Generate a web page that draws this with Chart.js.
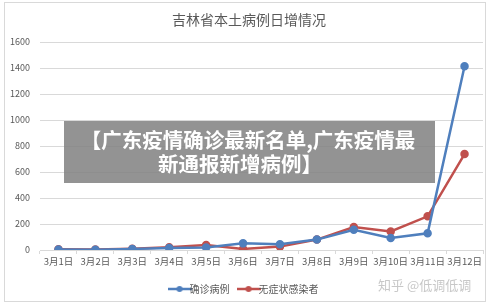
<!DOCTYPE html>
<html><head><meta charset="utf-8">
<script src="https://cdn.jsdelivr.net/npm/chart.js@4"></script>
<style>html,body{margin:0;padding:0;background:#fff}#wrap{width:500px;height:306px;position:relative}</style>
</head><body><div id="wrap"><canvas id="c" width="500" height="306"></canvas></div>
<script>
const categories = ['3月1日','3月2日','3月3日','3月4日','3月5日','3月6日','3月7日','3月8日','3月9日','3月10日','3月11日','3月12日'];
const confirmed = [3, 2, 8, 16, 20, 51, 44, 80, 156, 92, 128, 1413];
const asymptomatic = [5, 4, 10, 21, 38, 8, 26, 80, 177, 143, 259, 738];
const seriesNames = ['确诊病例', '无症状感染者'];
const yTicks = [0, 200, 400, 600, 800, 1000, 1200, 1400, 1600];
const titleText = '吉林省本土病例日增情况';
const overlayLines = ['【广东疫情确诊最新名单,广东疫情最', '新通报新增病例】'];
const watermark = '知乎 @低调低调';
const FONT = '"Noto Sans CJK SC", "Microsoft YaHei", sans-serif';

function legendIcon(color){
  const c = document.createElement('canvas'); c.width = 24; c.height = 8;
  const g = c.getContext('2d');
  g.strokeStyle = color; g.lineWidth = 2.5;
  g.beginPath(); g.moveTo(0,4); g.lineTo(24,4); g.stroke();
  g.fillStyle = color; g.beginPath(); g.arc(12,4,3,0,Math.PI*2); g.fill();
  return c;
}

const deco = {
  id:'deco',
  beforeDraw(chart){
    const g = chart.ctx;
    g.save();
    g.fillStyle = '#fff'; g.fillRect(0,0,500,306);
    g.strokeStyle = '#d9d9d9'; g.lineWidth = 1;
    g.strokeRect(4.5, 2.5, 481, 299);
    g.fillStyle = '#595959'; g.font = '14px ' + FONT;
    g.textAlign = 'center'; g.textBaseline = 'middle';
    g.fillText(titleText, 249, 20);
    g.restore();
  },
  afterDraw(chart){
    const g = chart.ctx;
    g.save();
    g.fillStyle = 'rgba(128,128,128,0.85)';
    g.fillRect(64, 121, 371, 62);
    g.fillStyle = '#fff'; g.font = 'bold 20.5px ' + FONT;
    g.textAlign = 'center'; g.textBaseline = 'middle';
    g.fillText(overlayLines[0], 248, 140);
    g.fillText(overlayLines[1], 240, 164);
    g.fillStyle = '#c8c8c8'; g.font = '13px ' + FONT;
    g.textAlign = 'left';
    g.fillText(watermark, 378, 285);
    g.restore();
  }
};

new Chart(document.getElementById('c'), {
  type:'line',
  data:{ labels: categories, datasets:[
    {label: seriesNames[0], data: confirmed, borderColor:'#4f7fbd', backgroundColor:'#4f7fbd', borderWidth:2.5, pointRadius:3, pointHoverRadius:3, tension:0, pointStyle:'circle'},
    {label: seriesNames[1], data: asymptomatic, borderColor:'#c0504d', backgroundColor:'#c0504d', borderWidth:2.5, pointRadius:3, pointHoverRadius:3, tension:0, pointStyle:'circle'}
  ]},
  options:{
    responsive:false, animation:false, devicePixelRatio:1,
    layout:{padding:{left:10, right:17, top:42, bottom:2}},
    plugins:{
      legend:{position:'bottom', labels:{usePointStyle:true, color:'#595959', font:{family:FONT, size:10}, padding:14, boxHeight:8, generateLabels(chart){
        return chart.data.datasets.map((d,i)=>({text:d.label, pointStyle:legendIcon(d.borderColor), fillStyle:d.borderColor, strokeStyle:d.borderColor, lineWidth:0, datasetIndex:i, fontColor:'#595959'}));
      }}},
      title:{display:false}, tooltip:{enabled:false}
    },
    scales:{
      x:{offset:true, grid:{offset:true, drawOnChartArea:false, tickLength:4, color:'#d9d9d9'}, border:{color:'#d9d9d9'},
         ticks:{color:'#595959', font:{family:FONT, size:9.5}, maxRotation:0, autoSkip:false, padding:2},
         afterFit(s){ s.height = 20; }},
      y:{min:0, max:1600, afterBuildTicks(s){ s.ticks = yTicks.map(v=>({value:v})); },
         grid:{color:'#d9d9d9', drawTicks:false}, border:{display:false},
         ticks:{color:'#595959', font:{family:FONT, size:9}, padding:10, callback:(v)=>String(v)},
         afterFit(s){ s.width = 30; }}
    }
  },
  plugins:[deco]
});
</script></body></html>
